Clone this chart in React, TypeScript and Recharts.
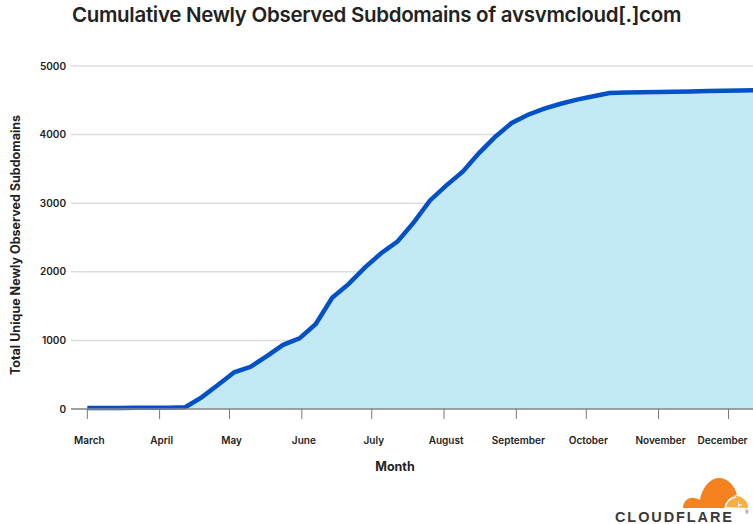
import React from "react";
import {
  AreaChart,
  Area,
  XAxis,
  YAxis,
  CartesianGrid,
} from "recharts";

// days since March 1, sampled weekly
const DAYS = [
  0, 7, 14, 21, 28, 35, 42, 49, 56, 63, 70, 77, 84, 91, 98, 105, 112, 119, 126,
  133, 140, 147, 154, 161, 168, 175, 182, 189, 196, 203, 210, 217, 224, 231,
  238, 245, 252, 259, 266, 273, 280, 286,
];
const TOTALS = [
  15, 15, 16, 17, 18, 20, 25, 170, 350, 535, 615, 770, 935, 1030, 1240, 1620,
  1820, 2060, 2270, 2440, 2720, 3040, 3260, 3460, 3730, 3970, 4170, 4290, 4380,
  4450, 4510, 4560, 4605, 4612, 4618, 4622, 4626, 4630, 4634, 4638, 4642, 4645,
];

const MONTHS = [
  "March",
  "April",
  "May",
  "June",
  "July",
  "August",
  "September",
  "October",
  "November",
  "December",
];
const MONTH_START = [0, 31, 61, 92, 122, 153, 184, 214, 245, 275];

const Y_TICKS = [0, 1000, 2000, 3000, 4000, 5000];

const data = DAYS.map((d, i) => ({ day: d, total: TOTALS[i] }));

const FONT = "Inter, 'Noto Sans', sans-serif";

// month label, nudged left when it would run off the right edge
function MonthTick(props: any) {
  const { x, y, payload } = props;
  const label = MONTHS[MONTH_START.indexOf(payload.value)];
  const last = payload.value === MONTH_START[MONTH_START.length - 1];
  return (
    <text
      x={x + (last ? -6 : 2)}
      y={y + 9}
      textAnchor="middle"
      fontSize={10}
      fontWeight={600}
      fill="#222"
      fontFamily={FONT}
    >
      {label}
    </text>
  );
}

function CloudflareLogo() {
  return (
    <svg
      width={140}
      height={50}
      style={{ position: "absolute", left: 612, top: 474 }}
    >
      {/* light orange right lobe */}
      <path
        d="M112 33 C112 26 118 21 125 22 C132 23 136 28 136 34 L136 34 Z"
        fill="#FBAD41"
      />
      {/* main cloud */}
      <path
        d="M71 34 C71 28 76 23 82 24 C84 24 86 25 88 26 C90 14 98 4 107 4 C116 4 123 12 125 21 C119 22 114 26 113 33 L113 34 Z"
        fill="#F6821F"
      />
      <path d="M113 34 C114 28 118 24 124 23" stroke="#fff" strokeWidth={1.5} fill="none" />
      <path d="M126 26 L127 30 L131 31 L127 32 L126 34" fill="#fff" />
      <text
        x={3}
        y={48}
        fontFamily="'Liberation Sans', Arial, sans-serif"
        fontWeight={700}
        fontSize={14.5}
        letterSpacing={1.9}
        fill="#3a3a3a"
      >
        CLOUDFLARE
      </text>
      <text x={133} y={40} fontSize={5} fill="#3a3a3a" fontFamily="sans-serif">
        ®
      </text>
    </svg>
  );
}

export default function App() {
  return (
    <div
      style={{
        position: "absolute",
        left: 0,
        top: 0,
        width: 753,
        height: 524,
        background: "#fff",
        overflow: "hidden",
        fontFamily: FONT,
      }}
    >
      <div
        style={{
          position: "absolute",
          left: 0,
          top: 2,
          width: 753,
          textAlign: "center",
          fontSize: 20.5,
          fontWeight: 600,
          color: "#222",
          letterSpacing: -0.3,
        }}
      >
        Cumulative Newly Observed Subdomains of avsvmcloud[.]com
      </div>

      <AreaChart
        width={753}
        height={524}
        data={data}
        margin={{ top: 66, right: 0, bottom: 0, left: 0 }}
        style={{ position: "absolute", left: 0, top: 0 }}
      >
        <CartesianGrid
          vertical={false}
          stroke="#dddddd"
          strokeWidth={1.5}
        />
        <XAxis
          dataKey="day"
          type="number"
          domain={[-7, 285.5]}
          ticks={MONTH_START}
          height={115}
          tickSize={10}
          tickMargin={16}
          axisLine={{ stroke: "#888", strokeWidth: 1.5 }}
          tickLine={{ stroke: "#777", strokeWidth: 1 }}
          tick={<MonthTick />}
          interval={0}
          allowDataOverflow
        />
        <YAxis
          type="number"
          domain={[0, 5000]}
          ticks={Y_TICKS}
          width={71}
          axisLine={false}
          tickLine={false}
          tickSize={0}
          tickMargin={5}
          tick={{ fontSize: 10, fontWeight: 600, fill: "#222" }}
        />
        <Area
          type="linear"
          dataKey="total"
          stroke="#0050c8"
          strokeWidth={4.5}
          fill="#c3e9f5"
          fillOpacity={1}
          isAnimationActive={false}
          dot={false}
          activeDot={false}
        />
      </AreaChart>

      <div
        style={{
          position: "absolute",
          left: 15,
          top: 245,
          transform: "translate(-50%, -50%) rotate(-90deg)",
          whiteSpace: "nowrap",
          fontSize: 12.5,
          fontWeight: 700,
          color: "#222",
        }}
      >
        Total Unique Newly Observed Subdomains
      </div>
      <div
        style={{
          position: "absolute",
          left: 395,
          top: 466,
          transform: "translate(-50%, -50%)",
          fontSize: 12.5,
          fontWeight: 700,
          color: "#222",
        }}
      >
        Month
      </div>

      <CloudflareLogo />
    </div>
  );
}
